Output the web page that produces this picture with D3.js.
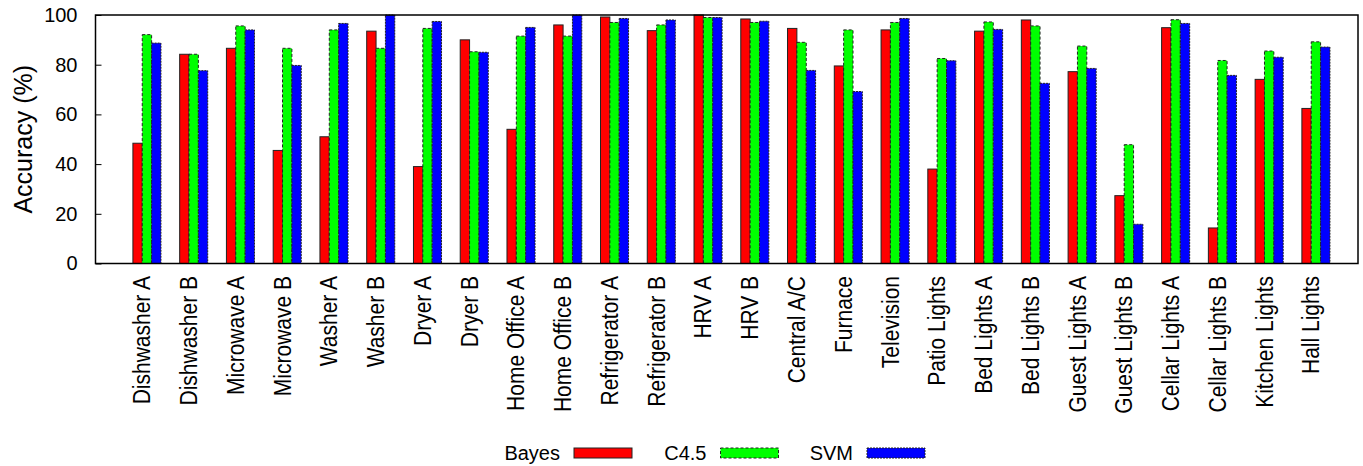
<!DOCTYPE html>
<html>
<head>
<meta charset="utf-8">
<script src="https://cdn.jsdelivr.net/npm/d3@7"></script>
<style>
  body { margin: 0; background: #fff; }
  text { font-family: "Liberation Sans", Arial, Helvetica, sans-serif; fill: #000; }
</style>
</head>
<body>
<div id="chart"></div>
<script>
"use strict";

// categories along the x axis
var categories = ["Dishwasher A", "Dishwasher B", "Microwave A", "Microwave B", "Washer A",
  "Washer B", "Dryer A", "Dryer B", "Home Office A", "Home Office B", "Refrigerator A",
  "Refrigerator B", "HRV A", "HRV B", "Central A/C", "Furnace", "Television", "Patio Lights",
  "Bed Lights A", "Bed Lights B", "Guest Lights A", "Guest Lights B", "Cellar Lights A",
  "Cellar Lights B", "Kitchen Lights", "Hall Lights"];

// accuracy (%) per classifier
var bayes = [48.4, 84.2, 86.6, 45.5, 51, 93.5, 39, 90, 54, 96, 99.2, 93.7, 100, 98.4,
  94.6, 79.5, 94, 38, 93.5, 98, 77.2, 27.3, 94.9, 14.3, 74.1, 62.4];
var c45 = [92.1, 84.2, 95.6, 86.6, 94, 86.6, 94.6, 85.2, 91.5, 91.5, 97, 96, 99, 97,
  89, 94, 97, 82.5, 97.2, 95.6, 87.5, 47.8, 98.1, 81.7, 85.5, 89.2];
var svm = [88.7, 77.6, 94, 79.7, 96.6, 100, 97.4, 85, 95, 100, 98.6, 98, 99, 97.5,
  77.7, 69.2, 98.6, 81.6, 94.2, 72.5, 78.5, 15.8, 96.6, 75.7, 83, 87.1];

var seriesNames = ["Bayes", "C4.5", "SVM"];
var yTicks = [0, 20, 40, 60, 80, 100];

var colors = ["#ff0000", "#00ff00", "#0000ff"];
var dashes = [null, "3,2", "2,1"];

var W = 1363, H = 466;
var m = { left: 95.5, right: 1358, top: 15, bottom: 263.5 };

var svg = d3.select("#chart").append("svg")
  .attr("width", W).attr("height", H);

var x = d3.scaleLinear().domain([-1, 26]).range([m.left, m.right]);
var y = d3.scaleLinear().domain([0, 100]).range([m.bottom, m.top]);

var allSeries = [bayes, c45, svm];
var barW = 0.2;

// bars
allSeries.forEach(function (vals, j) {
  svg.append("g").selectAll("rect")
    .data(vals)
    .enter()
    .append("rect")
    .attr("x", function (d, i) { return x(i - 0.2 + j * barW); })
    .attr("width", function (d, i) { return x(i - 0.2 + (j + 1) * barW) - x(i - 0.2 + j * barW); })
    .attr("y", function (d) { return y(d); })
    .attr("height", function (d) { return y(0) - y(d); })
    .attr("fill", colors[j])
    .attr("stroke", "#222")
    .attr("stroke-width", 1)
    .attr("stroke-dasharray", dashes[j]);
});

// y axis ticks + labels (inward ticks)
var yAxis = d3.axisLeft(y).tickValues(yTicks).tickSize(-6).tickPadding(18);
var gy = svg.append("g").attr("transform", "translate(" + m.left + ",0)").call(yAxis);
gy.select(".domain").remove();
gy.selectAll("text").style("font-size", "20px");
gy.selectAll("line").attr("stroke", "#000");

// frame
svg.append("rect")
  .attr("x", m.left).attr("y", m.top)
  .attr("width", m.right - m.left).attr("height", m.bottom - m.top)
  .attr("fill", "none").attr("stroke", "#000").attr("stroke-width", 1.5);

// x labels, rotated
svg.append("g").selectAll("text")
  .data(categories)
  .enter()
  .append("text")
  .attr("transform", function (d, i) { return "translate(" + x(i) + ",276) scale(1.1,1) rotate(-90)"; })
  .attr("text-anchor", "end")
  .attr("dy", "0.35em")
  .style("font-size", "21px")
  .text(function (d) { return d; });

// y axis title
svg.append("text")
  .attr("transform", "translate(" + 32 + "," + ((m.top + m.bottom) / 2) + ") rotate(-90)")
  .attr("text-anchor", "middle")
  .style("font-size", "25px")
  .text("Accuracy (%)");

// legend
var lx = d3.scalePoint().domain(seriesNames).range([574, 867]);
var leg = svg.append("g").selectAll("g")
  .data(seriesNames)
  .enter()
  .append("g")
  .attr("transform", function (d) { return "translate(" + lx(d) + ",453)"; });

leg.append("rect")
  .attr("x", 0).attr("y", -5)
  .attr("width", 58).attr("height", 10)
  .attr("fill", function (d, j) { return colors[j]; })
  .attr("stroke", "#222")
  .attr("stroke-dasharray", function (d, j) { return dashes[j]; });

leg.append("text")
  .attr("x", -14)
  .attr("dy", "0.35em")
  .attr("text-anchor", "end")
  .style("font-size", "20px")
  .text(function (d) { return d; });
</script>
</body>
</html>
